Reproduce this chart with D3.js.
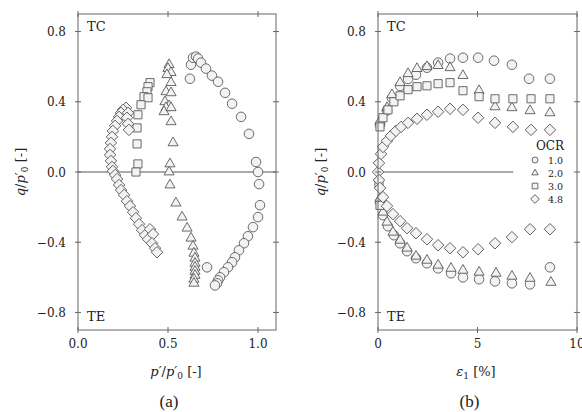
<!DOCTYPE html>
<head>
    <script src="https://cdn.jsdelivr.net/npm/d3@7"></script>
    <style>
        body { margin: 0; background: #fff; }
        text { font-family: "DejaVu Serif", serif; fill: #222; }
    </style>
</head>
<body>
<div>
    <svg width="582" height="412"></svg>
</div>
<script type="text/javascript">
    // OCR values for legend
    var ocrLabels = ["1.0", "2.0", "3.0", "4.8"];

    // panel (a): p'/p0' vs q/p0'
    var pqOcr10 = [
        [0.622, 0.531], [0.628, 0.611], [0.639, 0.651], [0.656, 0.657], [0.667, 0.646],
        [0.683, 0.623], [0.711, 0.589], [0.744, 0.549], [0.778, 0.514], [0.817, 0.451],
        [0.856, 0.389], [0.906, 0.314], [0.950, 0.217], [0.989, 0.057], [1.000, 0.000],
        [1.006, -0.069], [1.011, -0.189], [1.000, -0.257], [0.972, -0.314], [0.944, -0.366],
        [0.922, -0.406], [0.894, -0.446], [0.872, -0.486], [0.856, -0.514], [0.833, -0.543],
        [0.811, -0.571], [0.789, -0.600], [0.778, -0.617], [0.772, -0.634], [0.761, -0.646],
        [0.717, -0.543]
    ];
    var pqOcr20 = [
        [0.506, 0.611], [0.500, 0.589], [0.517, 0.566], [0.494, 0.554], [0.517, 0.509],
        [0.489, 0.457], [0.517, 0.451], [0.483, 0.400], [0.506, 0.377], [0.489, 0.366],
        [0.478, 0.343], [0.517, 0.366], [0.517, 0.286], [0.528, 0.166], [0.511, 0.046],
        [0.506, 0.000], [0.511, -0.074], [0.544, -0.177], [0.578, -0.257], [0.606, -0.320],
        [0.628, -0.377], [0.639, -0.423], [0.644, -0.463], [0.650, -0.491], [0.650, -0.520],
        [0.650, -0.543], [0.650, -0.566], [0.650, -0.589], [0.644, -0.611], [0.644, -0.634]
    ];
    var pqOcr30 = [
        [0.400, 0.509], [0.389, 0.486], [0.383, 0.457], [0.367, 0.429], [0.389, 0.423],
        [0.350, 0.383], [0.333, 0.326], [0.328, 0.251], [0.328, 0.160], [0.333, 0.046],
        [0.322, 0.000]
    ];
    var pqOcr48 = [
        [0.267, 0.366], [0.250, 0.354], [0.239, 0.337], [0.228, 0.314], [0.217, 0.291],
        [0.206, 0.263], [0.194, 0.234], [0.189, 0.200], [0.183, 0.166], [0.178, 0.131],
        [0.178, 0.097], [0.183, 0.063], [0.189, 0.029], [0.194, 0.006], [0.206, -0.017],
        [0.278, 0.337], [0.272, 0.309], [0.278, 0.274], [0.283, 0.240],
        [0.217, -0.040], [0.228, -0.074], [0.239, -0.103], [0.256, -0.131], [0.272, -0.166],
        [0.289, -0.194], [0.306, -0.229], [0.322, -0.263], [0.339, -0.297], [0.356, -0.331],
        [0.372, -0.360], [0.389, -0.383], [0.400, -0.326], [0.417, -0.354], [0.411, -0.406],
        [0.428, -0.434], [0.439, -0.457]
    ];

    // panel (b): eps1 [%] vs q/p0'
    var eqOcr10 = [
        [0.10, 0.270], [0.45, 0.350], [0.70, 0.420], [1.11, 0.490], [1.51, 0.530],
        [1.91, 0.554], [2.46, 0.594], [3.02, 0.623], [3.62, 0.646], [4.27, 0.651],
        [5.03, 0.651], [5.83, 0.634], [6.73, 0.611], [7.59, 0.531], [8.64, 0.531],
        [0.10, -0.170], [0.25, -0.246], [0.50, -0.309], [0.80, -0.360], [1.11, -0.406],
        [1.46, -0.451], [1.91, -0.491], [2.46, -0.520], [3.02, -0.549], [3.67, -0.577],
        [4.27, -0.600], [5.08, -0.611], [5.88, -0.623], [6.73, -0.634], [7.64, -0.640],
        [8.64, -0.543]
    ];
    var eqOcr20 = [
        [0.10, 0.291], [0.45, 0.366], [0.70, 0.440], [1.11, 0.509], [1.51, 0.560],
        [1.96, 0.589], [2.46, 0.600], [3.02, 0.606], [3.62, 0.594], [4.27, 0.549],
        [5.08, 0.463], [5.88, 0.371], [6.73, 0.366], [7.64, 0.349], [8.64, 0.337],
        [0.10, -0.150], [0.25, -0.229], [0.45, -0.286], [0.75, -0.343], [1.11, -0.389],
        [1.46, -0.434], [1.91, -0.480], [2.46, -0.503], [3.02, -0.531], [3.67, -0.549],
        [4.27, -0.560], [5.08, -0.571], [5.93, -0.577], [6.73, -0.594], [7.64, -0.606],
        [8.69, -0.629]
    ];
    var eqOcr30 = [
        [0.10, 0.257], [0.25, 0.309], [0.50, 0.354], [0.80, 0.400], [1.11, 0.434],
        [1.51, 0.469], [1.96, 0.486], [2.46, 0.491], [3.02, 0.503], [3.62, 0.509],
        [4.27, 0.463], [5.08, 0.429], [5.88, 0.417], [6.78, 0.417], [7.69, 0.417],
        [8.64, 0.417], [0.05, -0.060], [0.10, -0.190]
    ];
    var eqOcr48 = [
        [0.00, 0.000], [0.05, 0.051], [0.15, 0.103], [0.25, 0.143], [0.45, 0.177],
        [0.65, 0.206], [0.90, 0.234], [1.16, 0.257], [1.51, 0.280], [1.96, 0.303],
        [2.46, 0.326], [3.02, 0.343], [3.62, 0.360], [4.27, 0.354], [5.03, 0.309],
        [5.88, 0.280], [6.78, 0.257], [7.69, 0.240], [8.64, 0.240],
        [0.05, -0.046], [0.10, -0.091], [0.25, -0.143], [0.45, -0.194], [0.75, -0.240],
        [1.11, -0.280], [1.46, -0.320], [1.91, -0.349], [2.46, -0.383], [3.02, -0.417],
        [3.62, -0.434], [4.27, -0.457], [5.03, -0.440], [5.88, -0.406], [6.73, -0.371],
        [7.64, -0.326], [8.64, -0.326]
    ];

    var yTicks = [-0.8, -0.4, 0.0, 0.4, 0.8];
    var xTicksA = [0.0, 0.5, 1.0];
    var xTicksB = [0, 5, 10];

    var svg = d3.select("svg");
    var plotTop = 14, plotBottom = 330;
    var markStroke = "#5a5a5a", markFill = "#f3f3f3";

    var shapes = [
        {type: d3.symbolCircle, size: 72, rot: 0},
        {type: d3.symbolTriangle, size: 44, rot: 0},
        {type: d3.symbolSquare, size: 66, rot: 0},
        {type: d3.symbolSquare, size: 66, rot: 45}
    ];
    var legendShapes = [
        {type: d3.symbolCircle, size: 28, rot: 0},
        {type: d3.symbolTriangle, size: 18, rot: 0},
        {type: d3.symbolSquare, size: 32, rot: 0},
        {type: d3.symbolSquare, size: 38, rot: 45}
    ];

    var yScale = d3.scaleLinear().domain([-0.9, 0.9]).range([plotBottom, plotTop]);

    function fmt(v, dec) {
        return (v < 0 ? "\u2212" : "") + Math.abs(v).toFixed(dec);
    }

    function drawPanel(left, right, xDomain, xTicks, xDec, zeroEnd, series, tag) {
        var xScale = d3.scaleLinear().domain(xDomain).range([left, right]);
        var g = svg.append("g");

        // zero line
        g.append("line")
                .attr("x1", left).attr("x2", zeroEnd === null ? right : xScale(zeroEnd))
                .attr("y1", yScale(0)).attr("y2", yScale(0))
                .attr("stroke", "#444").attr("stroke-width", 0.9);

        // markers
        series.forEach(function (data, i) {
            var sh = shapes[i];
            g.selectAll("path.s" + i)
                    .data(data)
                    .enter()
                    .append("path")
                    .attr("class", "s" + i)
                    .attr("d", d3.symbol().type(sh.type).size(sh.size))
                    .attr("transform", function (d) {
                        return "translate(" + xScale(d[0]) + "," + yScale(d[1]) + ") rotate(" + sh.rot + ")";
                    })
                    .attr("fill", markFill)
                    .attr("stroke", markStroke)
                    .attr("stroke-width", 0.9);
        });

        // frame
        g.append("rect")
                .attr("x", left).attr("y", plotTop)
                .attr("width", right - left).attr("height", plotBottom - plotTop)
                .attr("fill", "none").attr("stroke", "#666").attr("stroke-width", 1);

        // ticks (crossing frame)
        yTicks.forEach(function (t) {
            [left, right].forEach(function (xx) {
                g.append("line").attr("x1", xx - 3).attr("x2", xx + 3)
                        .attr("y1", yScale(t)).attr("y2", yScale(t))
                        .attr("stroke", "#666");
            });
            g.append("text")
                    .attr("x", left - 12).attr("y", yScale(t) + 4.5)
                    .attr("text-anchor", "end").attr("font-size", 12)
                    .text(fmt(t, 1));
        });
        xTicks.forEach(function (t) {
            [plotTop, plotBottom].forEach(function (yy) {
                g.append("line").attr("y1", yy - 3).attr("y2", yy + 3)
                        .attr("x1", xScale(t)).attr("x2", xScale(t))
                        .attr("stroke", "#666");
            });
            g.append("text")
                    .attr("x", xScale(t)).attr("y", plotBottom + 18)
                    .attr("text-anchor", "middle").attr("font-size", 12)
                    .text(fmt(t, xDec));
        });

        g.append("text").attr("x", left + 9).attr("y", plotTop + 17)
                .attr("font-size", 13).text("TC");
        g.append("text").attr("x", left + 9).attr("y", plotBottom - 9)
                .attr("font-size", 13).text("TE");

        // y label
        var yl = g.append("text")
                .attr("transform", "translate(" + (left - 53) + "," + yScale(0) + ") rotate(-90)")
                .attr("text-anchor", "middle").attr("font-size", 13);
        yl.append("tspan").attr("font-style", "italic").text("q");
        yl.append("tspan").text("/");
        yl.append("tspan").attr("font-style", "italic").text("p\u2032");
        yl.append("tspan").attr("font-size", 9).attr("dy", 3).text("0");
        yl.append("tspan").attr("dy", -3).text(" [-]");

        // panel tag
        svg.append("text").attr("x", (left + right) / 2 - 8).attr("y", 407)
                .attr("text-anchor", "middle").attr("font-size", 17)
                .style("font-family", "Liberation Serif")
                .text(tag);
        return g;
    }

    var gA = drawPanel(78, 276, [0, 1.1], xTicksA, 1, null,
            [pqOcr10, pqOcr20, pqOcr30, pqOcr48], "(a)");
    var gB = drawPanel(378, 577, [0, 10], xTicksB, 0, 6.8,
            [eqOcr10, eqOcr20, eqOcr30, eqOcr48], "(b)");

    // x labels
    var xlA = gA.append("text").attr("x", 176).attr("y", 376)
            .attr("text-anchor", "middle").attr("font-size", 13);
    xlA.append("tspan").attr("font-style", "italic").text("p\u2032");
    xlA.append("tspan").text("/");
    xlA.append("tspan").attr("font-style", "italic").text("p\u2032");
    xlA.append("tspan").attr("font-size", 9).attr("dy", 3).text("0");
    xlA.append("tspan").attr("dy", -3).text(" [-]");

    var xlB = gB.append("text").attr("x", 476).attr("y", 376)
            .attr("text-anchor", "middle").attr("font-size", 13);
    xlB.append("tspan").attr("font-style", "italic").text("\u03b5");
    xlB.append("tspan").attr("font-size", 9).attr("dy", 3).text("1");
    xlB.append("tspan").attr("dy", -3).text(" [%]");

    // legend
    var leg = gB.append("g");
    leg.append("text").attr("x", 550).attr("y", 150)
            .attr("text-anchor", "middle").attr("font-size", 12).text("OCR");
    leg.selectAll("path.leg")
            .data(ocrLabels)
            .enter()
            .append("path")
            .attr("class", "leg")
            .attr("d", function (d, i) {
                return d3.symbol().type(legendShapes[i].type).size(legendShapes[i].size)();
            })
            .attr("transform", function (d, i) {
                return "translate(535," + (160 + i * 13) + ") rotate(" + legendShapes[i].rot + ")";
            })
            .attr("fill", markFill)
            .attr("stroke", markStroke)
            .attr("stroke-width", 0.9);
    leg.selectAll("text.lab")
            .data(ocrLabels)
            .enter()
            .append("text")
            .attr("class", "lab")
            .attr("x", 548)
            .attr("y", function (d, i) {
                return 163.5 + i * 13;
            })
            .attr("font-size", 9.5)
            .text(function (d) {
                return d;
            });
</script>
</body>
</html>
